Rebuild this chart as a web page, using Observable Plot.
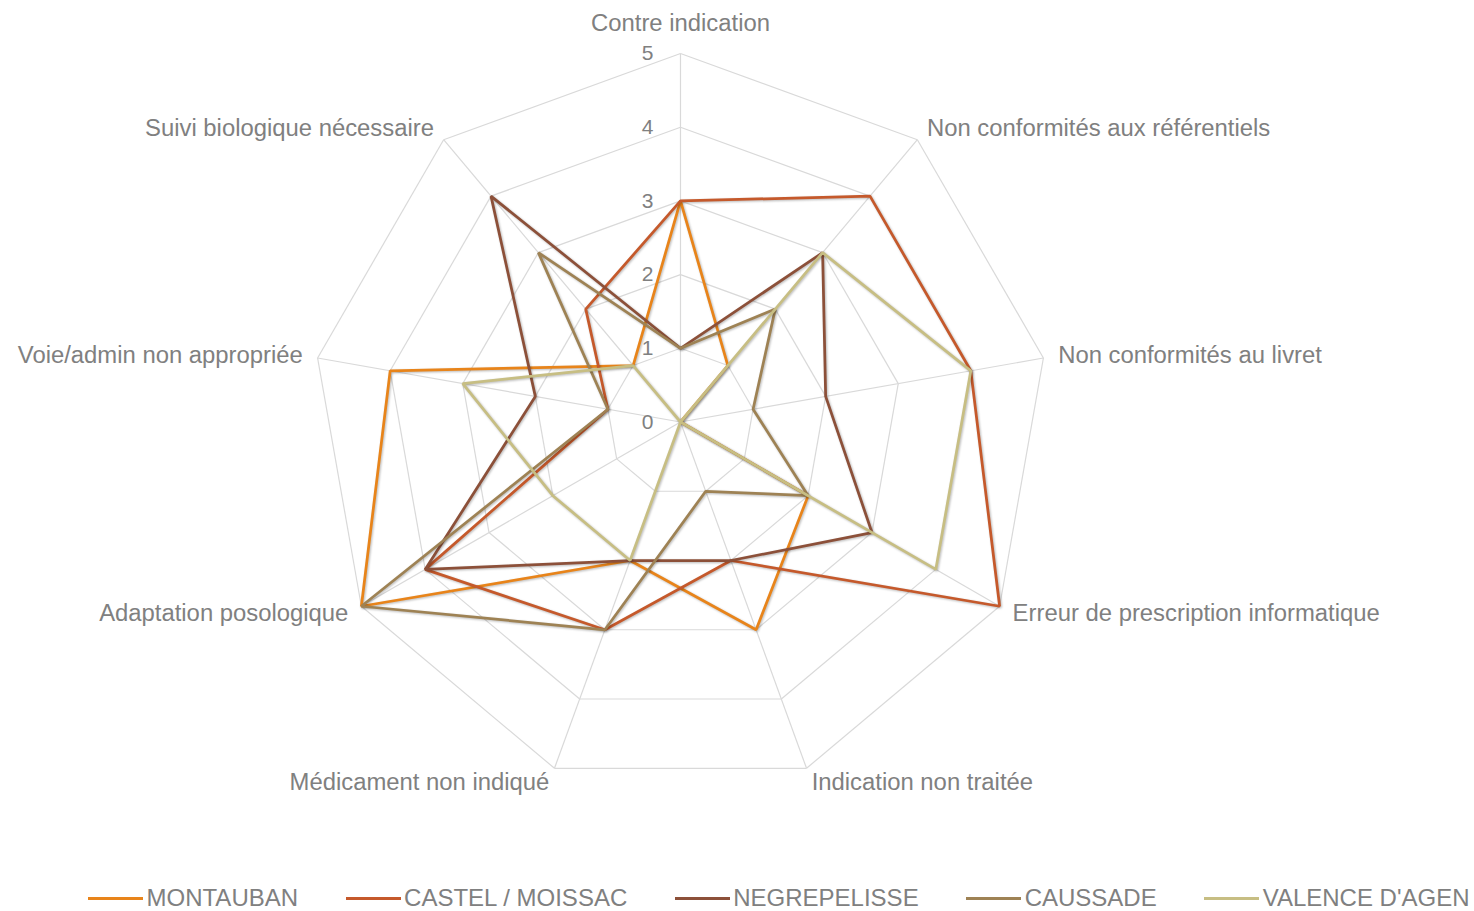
<!DOCTYPE html>
<html><head><meta charset="utf-8">
<script src="https://cdn.jsdelivr.net/npm/d3@7"></script>
<script src="https://cdn.jsdelivr.net/npm/@observablehq/plot@0.6"></script>
<style>
body{margin:0;background:#fff;font-family:"Liberation Sans",Arial,sans-serif;}
#chart{position:relative;width:1474px;height:911px;overflow:hidden;}
#legend{position:absolute;top:884px;left:88px;height:28px;display:flex;align-items:center;white-space:nowrap;}
.item{display:flex;align-items:center;margin-right:47.5px;}
.sw{width:55px;height:3px;margin-right:3.5px;}
.lab{font-size:24px;color:#808080;font-family:"Liberation Sans",Arial,sans-serif;}
</style></head><body><div id="chart"><div id="plot"></div><div id="legend"></div></div>
<script>
const categories = [
  "Contre indication",
  "Non conformités aux référentiels",
  "Non conformités au livret",
  "Erreur de prescription informatique",
  "Indication non traitée",
  "Médicament non indiqué",
  "Adaptation posologique",
  "Voie/admin non appropriée",
  "Suivi biologique nécessaire"
];
const seriesNames = ["MONTAUBAN", "CASTEL / MOISSAC", "NEGREPELISSE", "CAUSSADE", "VALENCE D'AGEN"];
const montauban    = [3, 1, 0, 2, 3, 2, 5, 4, 1];
const castel       = [3, 4, 4, 5, 2, 3, 4, 1, 2];
const negrepelisse = [1, 3, 2, 3, 2, 2, 4, 2, 4];
const caussade     = [1, 2, 1, 2, 1, 3, 5, 1, 3];
const valence      = [0, 3, 4, 4, 0, 2, 2, 3, 1];
const seriesColors = ["#E8841A", "#C5592B", "#8C5039", "#9E8254", "#C7BE83"];
const tickValues = [0, 1, 2, 3, 4, 5];

const seriesValues = [montauban, castel, negrepelisse, caussade, valence];
const W = 1474, H = 870, cx = 680, cy = 421.5, u = 73.7;
const n = categories.length;
const maxV = d3.max(tickValues);
const ang = i => 2 * Math.PI * i / n;
const px = (v, i) => v * Math.sin(ang(i));
const py = (v, i) => v * Math.cos(ang(i));

const rows = seriesNames.flatMap((s, k) => seriesValues[k].map((v, i) => ({series: s, i, value: v})));
const ringSegs = tickValues.filter(t => t > 0).flatMap(t => categories.map((c, i) => ({t, i})));
const spokes = categories.map((c, i) => ({i}));

const labels = categories.map((c, i) => {
  const s = Math.sin(ang(i)), co = Math.cos(ang(i));
  const top = Math.abs(s) < 0.1;
  return {
    text: c,
    x: px(maxV, i) + (top ? 0 : 15 * s / u),
    y: py(maxV, i) + (top ? 30 / u : 14.65 * co / u),
    anchor: top ? "middle" : (s > 0 ? "start" : "end")
  };
});

const textStyle = {fontSize: 23.85, fill: "#808080"};
const plot = Plot.plot({
  width: W, height: H,
  marginTop: 0, marginBottom: 0, marginLeft: 0, marginRight: 0,
  style: {fontFamily: "Liberation Sans, Arial, sans-serif", background: "#fff"},
  x: {domain: [-cx / u, (W - cx) / u], range: [0, W], axis: null},
  y: {domain: [-(H - cy) / u, cy / u], range: [H, 0], axis: null},
  color: {domain: seriesNames, range: seriesColors},
  marks: [
    Plot.link(ringSegs, {
      x1: d => px(d.t, d.i), y1: d => py(d.t, d.i),
      x2: d => px(d.t, d.i + 1), y2: d => py(d.t, d.i + 1),
      stroke: "#D9D9D9", strokeWidth: 1.2
    }),
    Plot.link(spokes, {
      x1: () => 0, y1: () => 0,
      x2: d => px(maxV, d.i), y2: d => py(maxV, d.i),
      stroke: "#D9D9D9", strokeWidth: 1.2
    }),
    Plot.text(tickValues, {
      x: () => 0, y: d => d, text: d => String(d),
      textAnchor: "end", dx: -27, fontSize: 21, fill: "#808080"
    }),
    Plot.line(rows, {
      x: d => px(d.value, d.i), y: d => py(d.value, d.i),
      z: "series", stroke: "series", strokeWidth: 2.75,
      curve: "linear-closed", strokeLinejoin: "miter"
    }),
    Plot.text(labels.filter(d => d.anchor === "middle"), {x: "x", y: "y", text: "text", textAnchor: "middle", ...textStyle}),
    Plot.text(labels.filter(d => d.anchor === "start"), {x: "x", y: "y", text: "text", textAnchor: "start", ...textStyle}),
    Plot.text(labels.filter(d => d.anchor === "end"), {x: "x", y: "y", text: "text", textAnchor: "end", ...textStyle})
  ]
});
plot.querySelectorAll('g[aria-label="line"] path').forEach(p => {
  p.style.filter = "drop-shadow(1px 1.5px 1.2px rgba(0,0,0,0.28))";
});
document.getElementById("plot").appendChild(plot);

const legend = d3.select("#legend");
seriesNames.forEach((s, k) => {
  const it = legend.append("div").attr("class", "item");
  it.append("div").attr("class", "sw").style("background", seriesColors[k]);
  it.append("span").attr("class", "lab").text(s);
});
</script></body></html>
